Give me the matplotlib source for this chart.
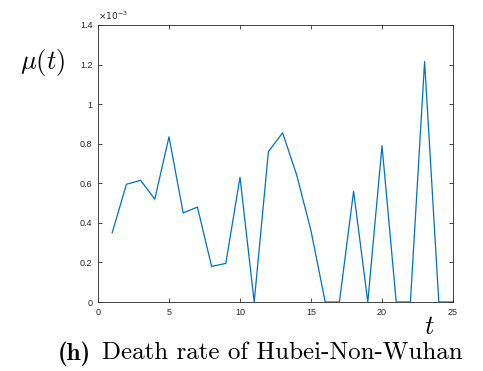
import matplotlib
matplotlib.use("Agg")
import matplotlib.pyplot as plt

plt.rcParams['mathtext.fontset'] = 'cm'
plt.rcParams['font.family'] = ['Liberation Sans', 'DejaVu Sans']

days = list(range(1, 26))
death_rate = [0.35, 0.595, 0.615, 0.52, 0.835, 0.45, 0.48, 0.18, 0.195, 0.63,
              0.0, 0.76, 0.855, 0.64, 0.36, 0.0, 0.0, 0.56, 0.0, 0.79,
              0.0, 0.0, 1.215, 0.0, 0.0]  # x 1e-3
xticks = [0, 5, 10, 15, 20, 25]
yticks = [0, 0.2, 0.4, 0.6, 0.8, 1.0, 1.2, 1.4]
ytick_labels = ['0', '0.2', '0.4', '0.6', '0.8', '1', '1.2', '1.4']

fig = plt.figure(figsize=(4.83, 3.71), dpi=100)
ax = fig.add_axes([98/483, 1-302/371, 355/483, 277/371])

ax.plot(days, death_rate, color='#0072BD', lw=0.9)
ax.set_xlim(0, 25)
ax.set_ylim(0, 1.4)
ax.set_xticks(xticks)
ax.set_yticks(yticks)
ax.set_yticklabels(ytick_labels)
ax.tick_params(direction='in', top=True, right=True, labelsize=6.5,
               length=3, width=0.6, colors='#262626', pad=4)
for s in ax.spines.values():
    s.set_linewidth(0.6)
    s.set_color('#262626')

ax.text(0.0, 1.01, r'$\times10^{-3}$', transform=ax.transAxes, fontsize=6.5,
        color='#262626', ha='left', va='bottom', math_fontfamily='dejavusans')

fig.text(43/483, 1-62/371, r'$\mu(t)$', fontsize=19, ha='center', va='center')
fig.text(429/483, 1-327/371, r'$t$', fontsize=19, ha='center', va='center')

# caption
fig.text(58/483, 1-360/371, '(h)', fontsize=18, ha='left', va='baseline',
         fontfamily='cmb10')
fig.text(102/483, 1-360/371, 'Death rate of Hubei-Non-Wuhan', fontsize=18,
         ha='left', va='baseline', fontfamily='cmr10')

fig.savefig('out.png', dpi=100)
